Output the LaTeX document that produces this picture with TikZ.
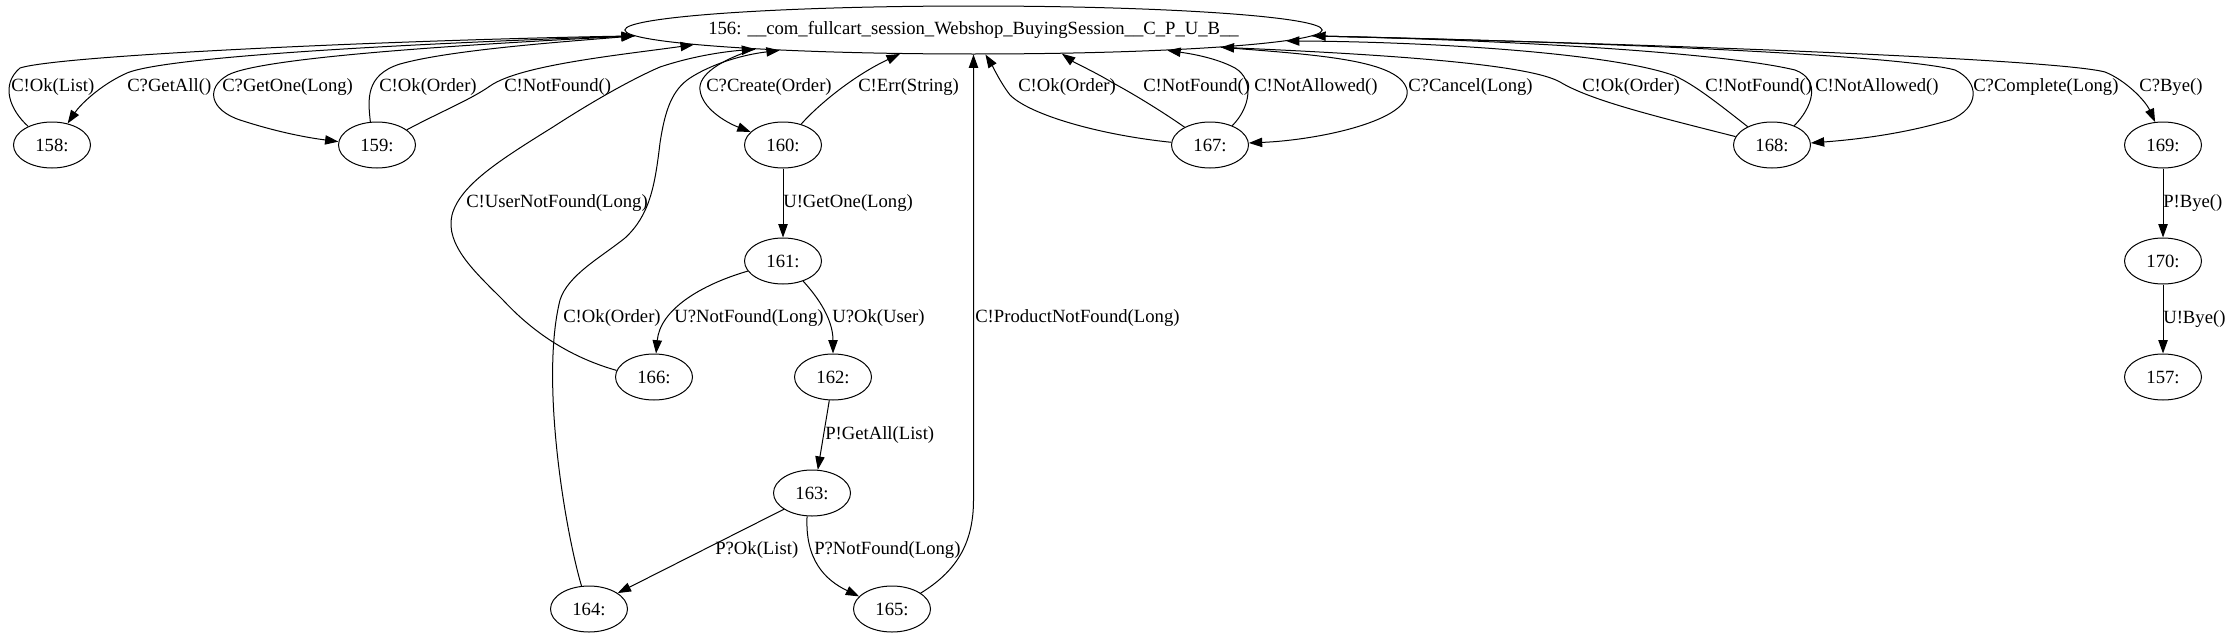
\documentclass[tikz,border=0pt]{standalone}
\usepackage{fontspec}
\setmainfont{Liberation Serif}
\usetikzlibrary{shapes.geometric, arrows.meta}

\begin{document}
\begin{tikzpicture}[
        x=0.75pt, y=-0.75pt,
        state/.style={ellipse, draw, line width=0.75pt, minimum width=57.75pt, minimum height=34.5pt, inner sep=0pt, font=\fontsize{14}{16}\selectfont},
        lbl/.style={anchor=west, inner sep=0pt, font=\fontsize{14}{16}\selectfont},
        arr/.style={-{Triangle[length=10pt, width=7pt]}, line width=0.75pt}
    ]
        \useasboundingbox (0,0) rectangle (2229,639);

        \node[state, minimum width=523pt, minimum height=36pt, inner xsep=-20pt] (n156) at (973.5,30) {156: \_\_com\_fullcart\_session\_Webshop\_BuyingSession\_\_C\_P\_U\_B\_\_};
        \node[state] (n158) at (52,145) {158:};
        \node[state] (n159) at (377,145) {159:};
        \node[state] (n160) at (783,145) {160:};
        \node[state] (n161) at (783,261) {161:};
        \node[state] (n166) at (654,377) {166:};
        \node[state] (n162) at (833,377) {162:};
        \node[state] (n163) at (812,493) {163:};
        \node[state] (n164) at (589,609) {164:};
        \node[state] (n165) at (892,609) {165:};
        \node[state] (n167) at (1210,145) {167:};
        \node[state] (n168) at (1772,145) {168:};
        \node[state] (n169) at (2163,145) {169:};
        \node[state] (n170) at (2163,261) {170:};
        \node[state] (n157) at (2163,377) {157:};

        \draw[arr] (n158.142) .. controls (10,110) and (0,85) .. (20,68) .. controls (60,55) and (400,40) .. (n156.181);
        \draw[arr] (n156.181.3) .. controls (450,42) and (170,55) .. (127,73) .. controls (100,85) and (80,105) .. (n158.54);
        \draw[arr] (n156.181.5) .. controls (450,45) and (260,58) .. (228,75) .. controls (205,88) and (210,110) .. (240,120) .. controls (280,133) and (310,138) .. (n159.175);
        \draw[arr] (n159.106) .. controls (368,100) and (365,75) .. (400,64) .. controls (450,50) and (560,42) .. (n156.181.7);
        \draw[arr] (n159.27) .. controls (440,112) and (470,100) .. (490,86) .. controls (520,65) and (620,55) .. (n156.183.7);
        \draw[arr] (n166.170) .. controls (580,360) and (540,340) .. (503,300) .. controls (475,272) and (445,245) .. (452,215) .. controls (460,185) and (500,160) .. (553,127) .. controls (590,103) and (630,80) .. (660,67) .. controls (690,57) and (720,52) .. (n156.185.1);
        \draw[arr] (n164.108) .. controls (565,530) and (540,380) .. (560,300) .. controls (568,275) and (600,258) .. (625,238) .. controls (650,215) and (655,185) .. (660,143) .. controls (665,110) and (672,90) .. (690,78) .. controls (710,65) and (740,55) .. (n156.186.1);
        \draw[arr] (n156.185.4) .. controls (720,60) and (698,75) .. (700,90) .. controls (702,108) and (725,122) .. (n160.158);
        \draw[arr] (n160.49) .. controls (820,103) and (855,75) .. (n156.198.6);
        \draw[arr] (n160) -- (n161);
        \draw[arr] (n161.196) .. controls (700,285) and (660,310) .. (n166.85);
        \draw[arr] (n161.315) .. controls (825,305) and (833,325) .. (n162.90);
        \draw[arr] (n162.261) -- (n163.76);
        \draw[arr] (n163.210) -- (n164.29.5);
        \draw[arr] (n163.258) .. controls (805,560) and (825,580) .. (n165.159);
        \draw[arr] (n165.29) .. controls (955,572) and (973.5,545) .. (973.5,500) -- (n156.south);
        \draw[arr] (n167.176) .. controls (1100,135) and (1030,115) .. (1010,95) .. controls (1000,82) and (992,65) .. (n156.296.6);
        \draw[arr] (n167.145) .. controls (1160,110) and (1130,92) .. (1113,83) .. controls (1095,72) and (1075,63) .. (n156.345);
        \draw[arr] (n167.41) .. controls (1250,108) and (1255,80) .. (1235,68) .. controls (1220,60) and (1200,55) .. (n156.354.9);
        \draw[arr] (n156.356.5) .. controls (1320,55) and (1400,60) .. (1407,90) .. controls (1412,120) and (1320,140) .. (n167.3);
        \draw[arr] (n168.167) .. controls (1650,115) and (1590,100) .. (1560,82) .. controls (1530,65) and (1400,55) .. (n156.356.9);
        \draw[arr] (n168.143) .. controls (1720,105) and (1695,85) .. (1675,76) .. controls (1620,55) and (1450,42) .. (n156.358.5);
        \draw[arr] (n168.41) .. controls (1812,108) and (1822,80) .. (1795,70) .. controls (1720,52) and (1500,40) .. (n156.359.1);
        \draw[arr] (n156.359.3) .. controls (1600,42) and (1900,55) .. (1955,70) .. controls (1980,82) and (1980,108) .. (1950,120) .. controls (1900,135) and (1850,140) .. (n168.3);
        \draw[arr] (n156.359.6) .. controls (1700,45) and (2060,60) .. (2105,72) .. controls (2125,80) and (2145,100) .. (n169.109);
        \draw[arr] (n169) -- (n170);
        \draw[arr] (n170) -- (n157);

        \node[lbl] (l1) at (11,87) {C!Ok(List)};
        \node[lbl] (l2) at (127,87) {C?GetAll()};
        \node[lbl] (l3) at (222,87) {C?GetOne(Long)};
        \node[lbl] (l4) at (379,87) {C!Ok(Order)};
        \node[lbl] (l5) at (504,87) {C!NotFound()};
        \node[lbl] (l6) at (706,87) {C?Create(Order)};
        \node[lbl] (l7) at (858,87) {C!Err(String)};
        \node[lbl] (l8) at (466,203) {C!UserNotFound(Long)};
        \node[lbl] (l9) at (783,203) {U!GetOne(Long)};
        \node[lbl] (l10) at (563,318) {C!Ok(Order)};
        \node[lbl] (l11) at (674,318) {U?NotFound(Long)};
        \node[lbl] (l12) at (832,318) {U?Ok(User)};
        \node[lbl] (l13) at (975,318) {C!ProductNotFound(Long)};
        \node[lbl] (l14) at (825,435) {P!GetAll(List)};
        \node[lbl] (l15) at (715,550) {P?Ok(List)};
        \node[lbl] (l16) at (814,550) {P?NotFound(Long)};
        \node[lbl] (l17) at (1018,87) {C!Ok(Order)};
        \node[lbl] (l18) at (1143,87) {C!NotFound()};
        \node[lbl] (l19) at (1254,87) {C!NotAllowed()};
        \node[lbl] (l20) at (1408,87) {C?Cancel(Long)};
        \node[lbl] (l21) at (1582,87) {C!Ok(Order)};
        \node[lbl] (l22) at (1705,87) {C!NotFound()};
        \node[lbl] (l23) at (1815,87) {C!NotAllowed()};
        \node[lbl] (l24) at (1973,87) {C?Complete(Long)};
        \node[lbl] (l25) at (2139,87) {C?Bye()};
        \node[lbl] (l26) at (2163,203) {P!Bye()};
        \node[lbl] (l27) at (2163,319) {U!Bye()};
    \end{tikzpicture}
\end{document}
